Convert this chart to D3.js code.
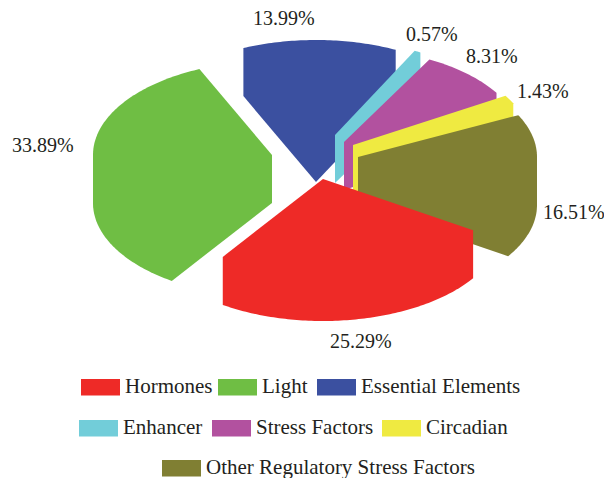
<!DOCTYPE html>
<html>
<head>
<meta charset="utf-8">
<script src="https://cdn.jsdelivr.net/npm/d3@7"></script>
<style>
  body { margin: 0; background: white; }
  text { font-family: "Liberation Serif", serif; fill: #231f20; }
</style>
</head>
<body>
<div class="regulationPie"></div>
<script>
// Chart data
const categories = ["Hormones", "Light", "Essential Elements", "Enhancer", "Stress Factors", "Circadian", "Other Regulatory Stress Factors"];
const shares = [25.29, 33.89, 13.99, 0.57, 8.31, 1.43, 16.51];
const shareLabels = ["25.29%", "33.89%", "13.99%", "0.57%", "8.31%", "1.43%", "16.51%"];

// Styles and layout, same order as the categories
const sliceColors = ["#ee2a27", "#6fbe44", "#3b50a0", "#72cdd9", "#b2519f", "#efea41", "#807f33"];
const apexX = [323, 272, 316, 335, 344, 353, 358];
const apexY = [179, 155, 134, 135, 142, 145, 157];
const labelX = [330, 12, 253, 406, 466, 517, 543];
const labelY = [348, 152, 25, 41, 63, 98, 219];
const legendBoxX = [81, 218, 317, 79, 212, 382, 162];
const legendBoxY = [379, 379, 379, 420, 420, 420, 460];
const drawOrder = [1, 2, 3, 4, 5, 6, 0];

const width = 604;
const height = 478;
const radiusX = 179;
const radiusY = 94;
const depth = 48;

const svg = d3.select(".regulationPie")
  .append("svg")
  .attr("width", width)
  .attr("height", height)
  .style("display", "block");

// Pie layout starts with the red slice, lower right of the ellipse
const firstAngle = 123 * Math.PI / 180;
const pie = d3.pie()
  .value(d => d)
  .sort(null)
  .startAngle(firstAngle)
  .endAngle(firstAngle + 2 * Math.PI);
const arcs = pie(shares);

// Each slice is convex, so the extruded shape is the hull of its top and bottom faces
function slicePath(d, i) {
  const points = [[apexX[i], apexY[i]], [apexX[i], apexY[i] + depth]];
  const steps = Math.max(4, Math.ceil((d.endAngle - d.startAngle) * 60));
  d3.range(steps + 1).forEach(s => {
    const a = d.startAngle + (d.endAngle - d.startAngle) * s / steps;
    const x = apexX[i] + radiusX * Math.sin(a);
    const y = apexY[i] - radiusY * Math.cos(a);
    points.push([x, y], [x, y + depth]);
  });
  return "M" + d3.polygonHull(points).join("L") + "Z";
}

svg.append("g")
  .selectAll("path")
  .data(drawOrder)
  .join("path")
  .attr("d", i => slicePath(arcs[i], i))
  .attr("fill", i => sliceColors[i]);

// Percentage labels
svg.append("g")
  .selectAll("text")
  .data(shareLabels)
  .join("text")
  .attr("x", (d, i) => labelX[i])
  .attr("y", (d, i) => labelY[i])
  .style("font-size", "20px")
  .text(d => d);

// Legend
const legendItems = svg.append("g")
  .selectAll("g")
  .data(categories)
  .join("g")
  .attr("transform", (d, i) => `translate(${legendBoxX[i]}, ${legendBoxY[i]})`);

legendItems.append("rect")
  .attr("width", 39)
  .attr("height", 16.5)
  .attr("fill", (d, i) => sliceColors[i]);

legendItems.append("text")
  .attr("x", 44)
  .attr("y", 13.5)
  .style("font-size", "21px")
  .text(d => d);
</script>
</body>
</html>
